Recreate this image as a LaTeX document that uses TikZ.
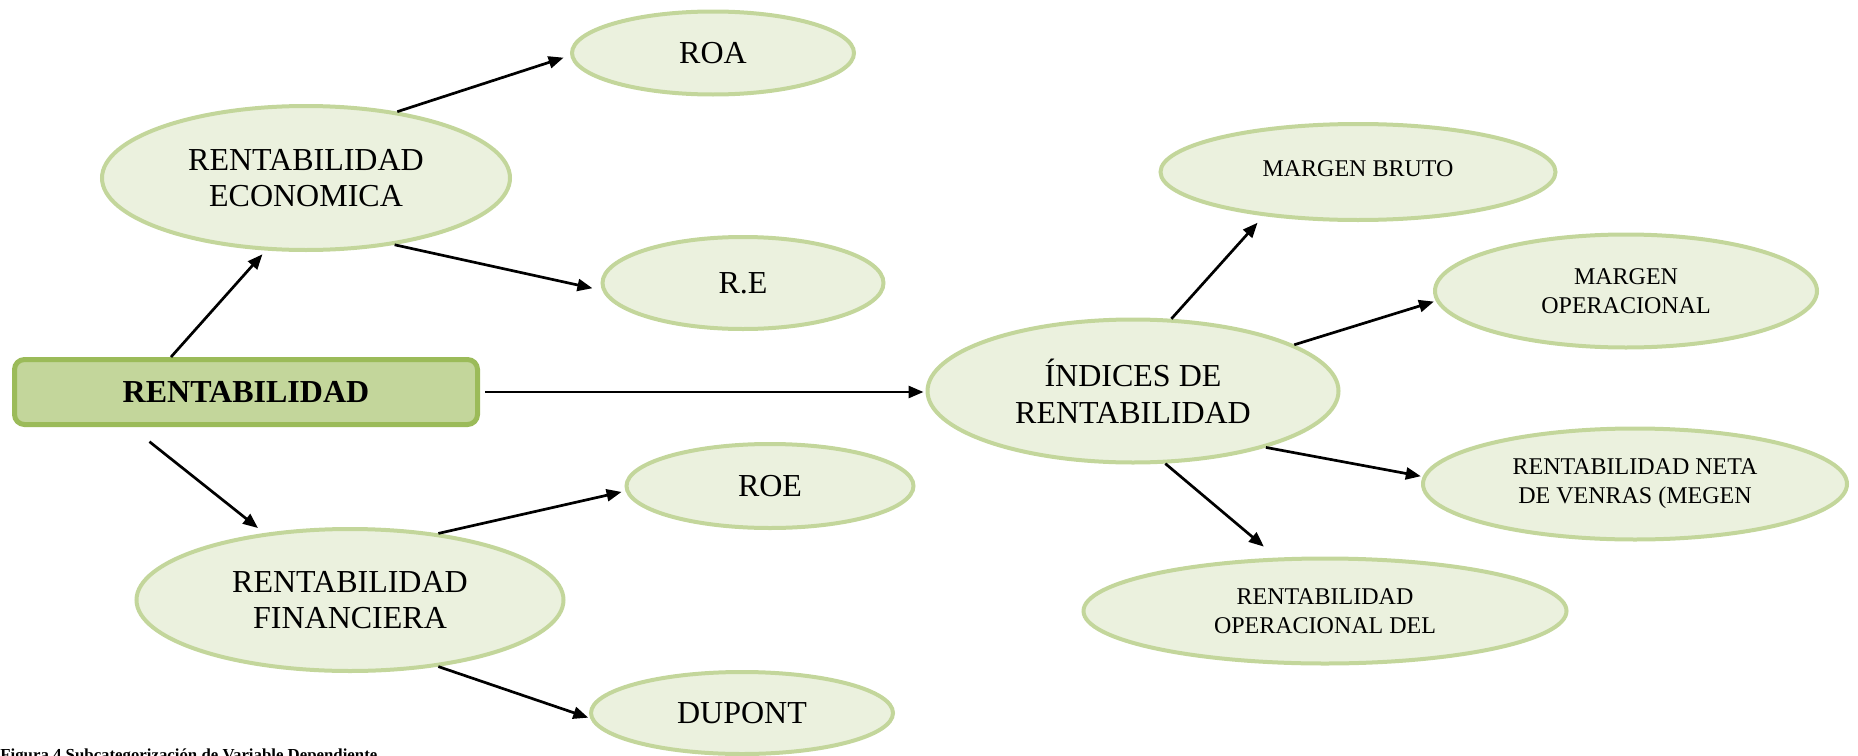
\documentclass[tikz,border=0pt]{standalone}
\usepackage{fontspec}
\setmainfont{Liberation Serif}
\usetikzlibrary{arrows.meta,calc,shapes.geometric}
\definecolor{elfill}{HTML}{EBF1DE}
\definecolor{eldraw}{HTML}{C3D69B}
\definecolor{boxfill}{HTML}{C3D69B}
\definecolor{boxdraw}{HTML}{9BBB59}
\begin{document}
\begin{tikzpicture}[x=0.5pt,y=-0.5pt,
  bigel/.style={ellipse, draw=eldraw, fill=elfill, line width=2pt, inner sep=0pt, align=center,
    font=\fontsize{16}{18.4}\selectfont},
  smallel/.style={ellipse, draw=eldraw, fill=elfill, line width=2pt, inner sep=0pt, align=center,
    font=\fontsize{12}{14.5}\selectfont},
  mainbox/.style={rectangle, rounded corners=5pt, draw=boxdraw, fill=boxfill, line width=2.5pt,
    inner sep=0pt, font=\bfseries\fontsize{16}{18.4}\selectfont},
  arr/.style={line width=1.35pt, -{Triangle[length=7.5pt,width=6pt]}}]
\useasboundingbox (0,0) rectangle (1858,755);

\node[mainbox, minimum width=231.5pt, minimum height=32.5pt] (rent) at (246,392) {RENTABILIDAD};

\node[bigel, minimum width=141pt, minimum height=41.5pt] (roa) at (713,53) {ROA};
\node[bigel, minimum width=204pt, minimum height=72pt] (eco) at (306,178) {RENTABILIDAD\\ECONOMICA};
\node[bigel, minimum width=140.5pt, minimum height=46pt] (re) at (743,283) {R.E};
\node[bigel, minimum width=143.5pt, minimum height=42pt] (roe) at (770,486) {ROE};
\node[bigel, minimum width=213.5pt, minimum height=71pt] (fin) at (350,600) {RENTABILIDAD\\FINANCIERA};
\node[bigel, minimum width=151pt, minimum height=41pt] (dup) at (742,713) {DUPONT};
\node[bigel, minimum width=205.5pt, minimum height=71.5pt] (idx) at (1133,391) {ÍNDICES DE\\RENTABILIDAD};

\node[smallel, minimum width=197.5pt, minimum height=48pt] (mb) at (1358,172) {\raisebox{3pt}{MARGEN BRUTO}};
\node[smallel, minimum width=191pt, minimum height=56.5pt] (mo) at (1626,291) {MARGEN\\OPERACIONAL};
\node[smallel, minimum width=212pt, minimum height=55.5pt] (neta) at (1635,484) {RENTABILIDAD NETA\\DE VENRAS (MEGEN};
\node[smallel, minimum width=241.5pt, minimum height=52.5pt] (opd) at (1325,611) {RENTABILIDAD\\OPERACIONAL DEL};

\draw[arr, shorten >=2.5pt] ($(rent.north)+(-75,0)$) -- (eco.241);
\draw[arr, shorten >=3.5pt] (eco.36.5) -- (roa.181);
\draw[arr, shorten >=5pt] (eco.323.5) -- (re.183);
\draw[arr, shorten <=11.8pt, shorten >=4pt] ($(rent.south)+(-115,0)$) -- (fin.142);
\draw[arr, shorten >=2pt] (fin.37) -- (roe.182);
\draw[arr, shorten >=1pt] (fin.323) -- (dup.182);
\draw[arr, shorten <=2.5pt, shorten >=1pt] (rent.east) -- (rent.east -| idx.west);
\draw[arr, shorten >=4.5pt] (idx.62) -- (mb.205);
\draw[arr, shorten >=1pt] (idx.16) -- (mo.183);
\draw[arr, shorten >=1pt] (idx.337.5) -- (neta.178.5);
\draw[arr, shorten >=8.5pt] (idx.294) -- (opd.132);

\node[anchor=base west, inner sep=0pt, font=\bfseries\fontsize{8.4}{10}\selectfont] (cap) at (0,760)
  {Figura 4 Subcategorización de Variable Dependiente};
\end{tikzpicture}
\end{document}
